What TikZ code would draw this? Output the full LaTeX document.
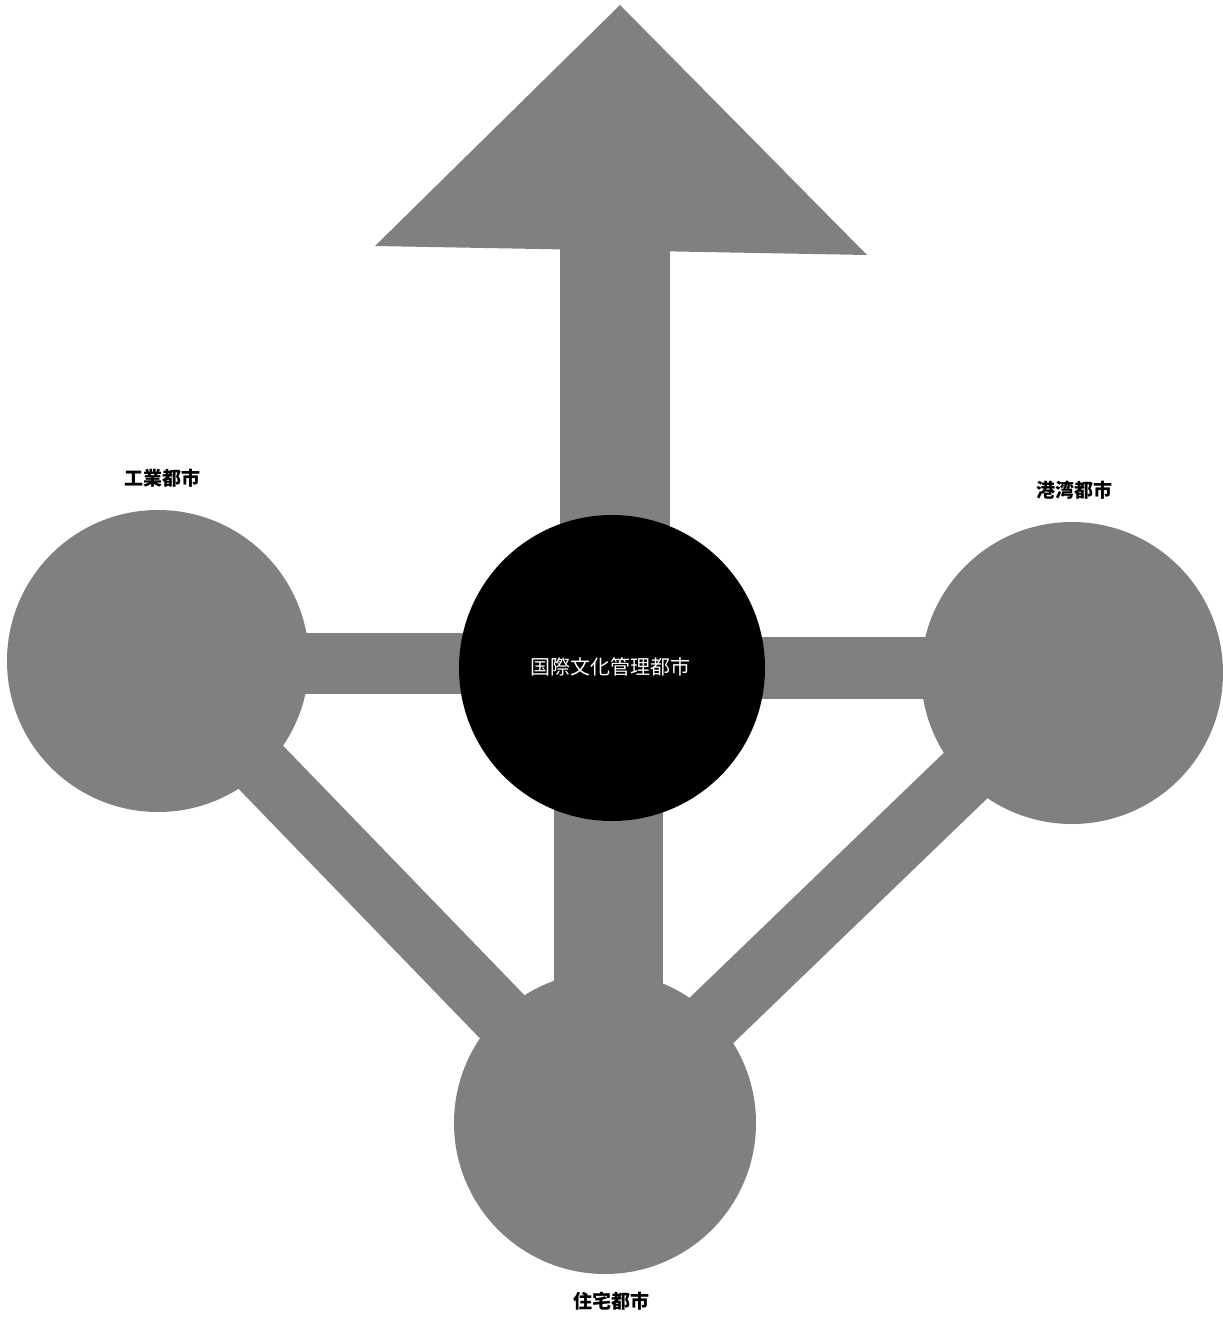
\documentclass[tikz,border=0pt]{standalone}
\usepackage{fontspec}
\newfontfamily\jp{Noto Sans CJK JP}
\begin{document}
\begin{tikzpicture}[x=1pt,y=-1pt,
  fillgray/.style={fill=black!50},
  city/.style={circle,fillgray,minimum size=302pt,inner sep=0pt,draw=none},
  hubstyle/.style={circle,fill=black,minimum size=306pt,inner sep=0pt,draw=none},
  bar/.style={draw=black!50,line cap=butt},
  lbl/.style={font=\jp\bfseries\fontsize{19}{19}\selectfont,text=black,inner sep=0pt},
  hublbl/.style={font=\jp\fontsize{20}{20}\selectfont,text=white,inner sep=0pt}]
\useasboundingbox (0,0) rectangle (1223,1317);
% node positions
\coordinate (pL) at (158,661);
\coordinate (pR) at (1072,673);
\coordinate (pB) at (605,1123);
\coordinate (pH) at (612,668);
\coordinate (shafttop) at (615,240);
\coordinate (shaftbot) at (608.5,1000);
% connectors (drawn first, under the circles)
\draw[bar,line width=62pt] (pL) -- (pB);
\draw[bar,line width=63pt] (pR) -- (pB);
\draw[bar,line width=61pt] (pL |- 0,663.5) -- (pH |- 0,663.5);
\draw[bar,line width=62pt] (pR |- 0,668) -- (pH |- 0,668);
\draw[bar,line width=109pt] (shaftbot |- pH) -- (shaftbot);
\draw[bar,line width=110pt] (shafttop |- pH) -- (shafttop);
% arrow head
\fill[fillgray] (620,5) -- (375,246) -- (867,255) -- cycle;
% circles
\node[city] (L) at (pL) {};
\node[city] (R) at (pR) {};
\node[city] (B) at (pB) {};
\node[hubstyle] (H) at (pH) {};
\node[hublbl] (Htxt) at (610,667) {国際文化管理都市};
% labels
\node[lbl] (Ltxt) at (162,478) {工業都市};
\node[lbl] (Rtxt) at (1074,490) {港湾都市};
\node[lbl] (Btxt) at (611,1301) {住宅都市};
\end{tikzpicture}
\end{document}
